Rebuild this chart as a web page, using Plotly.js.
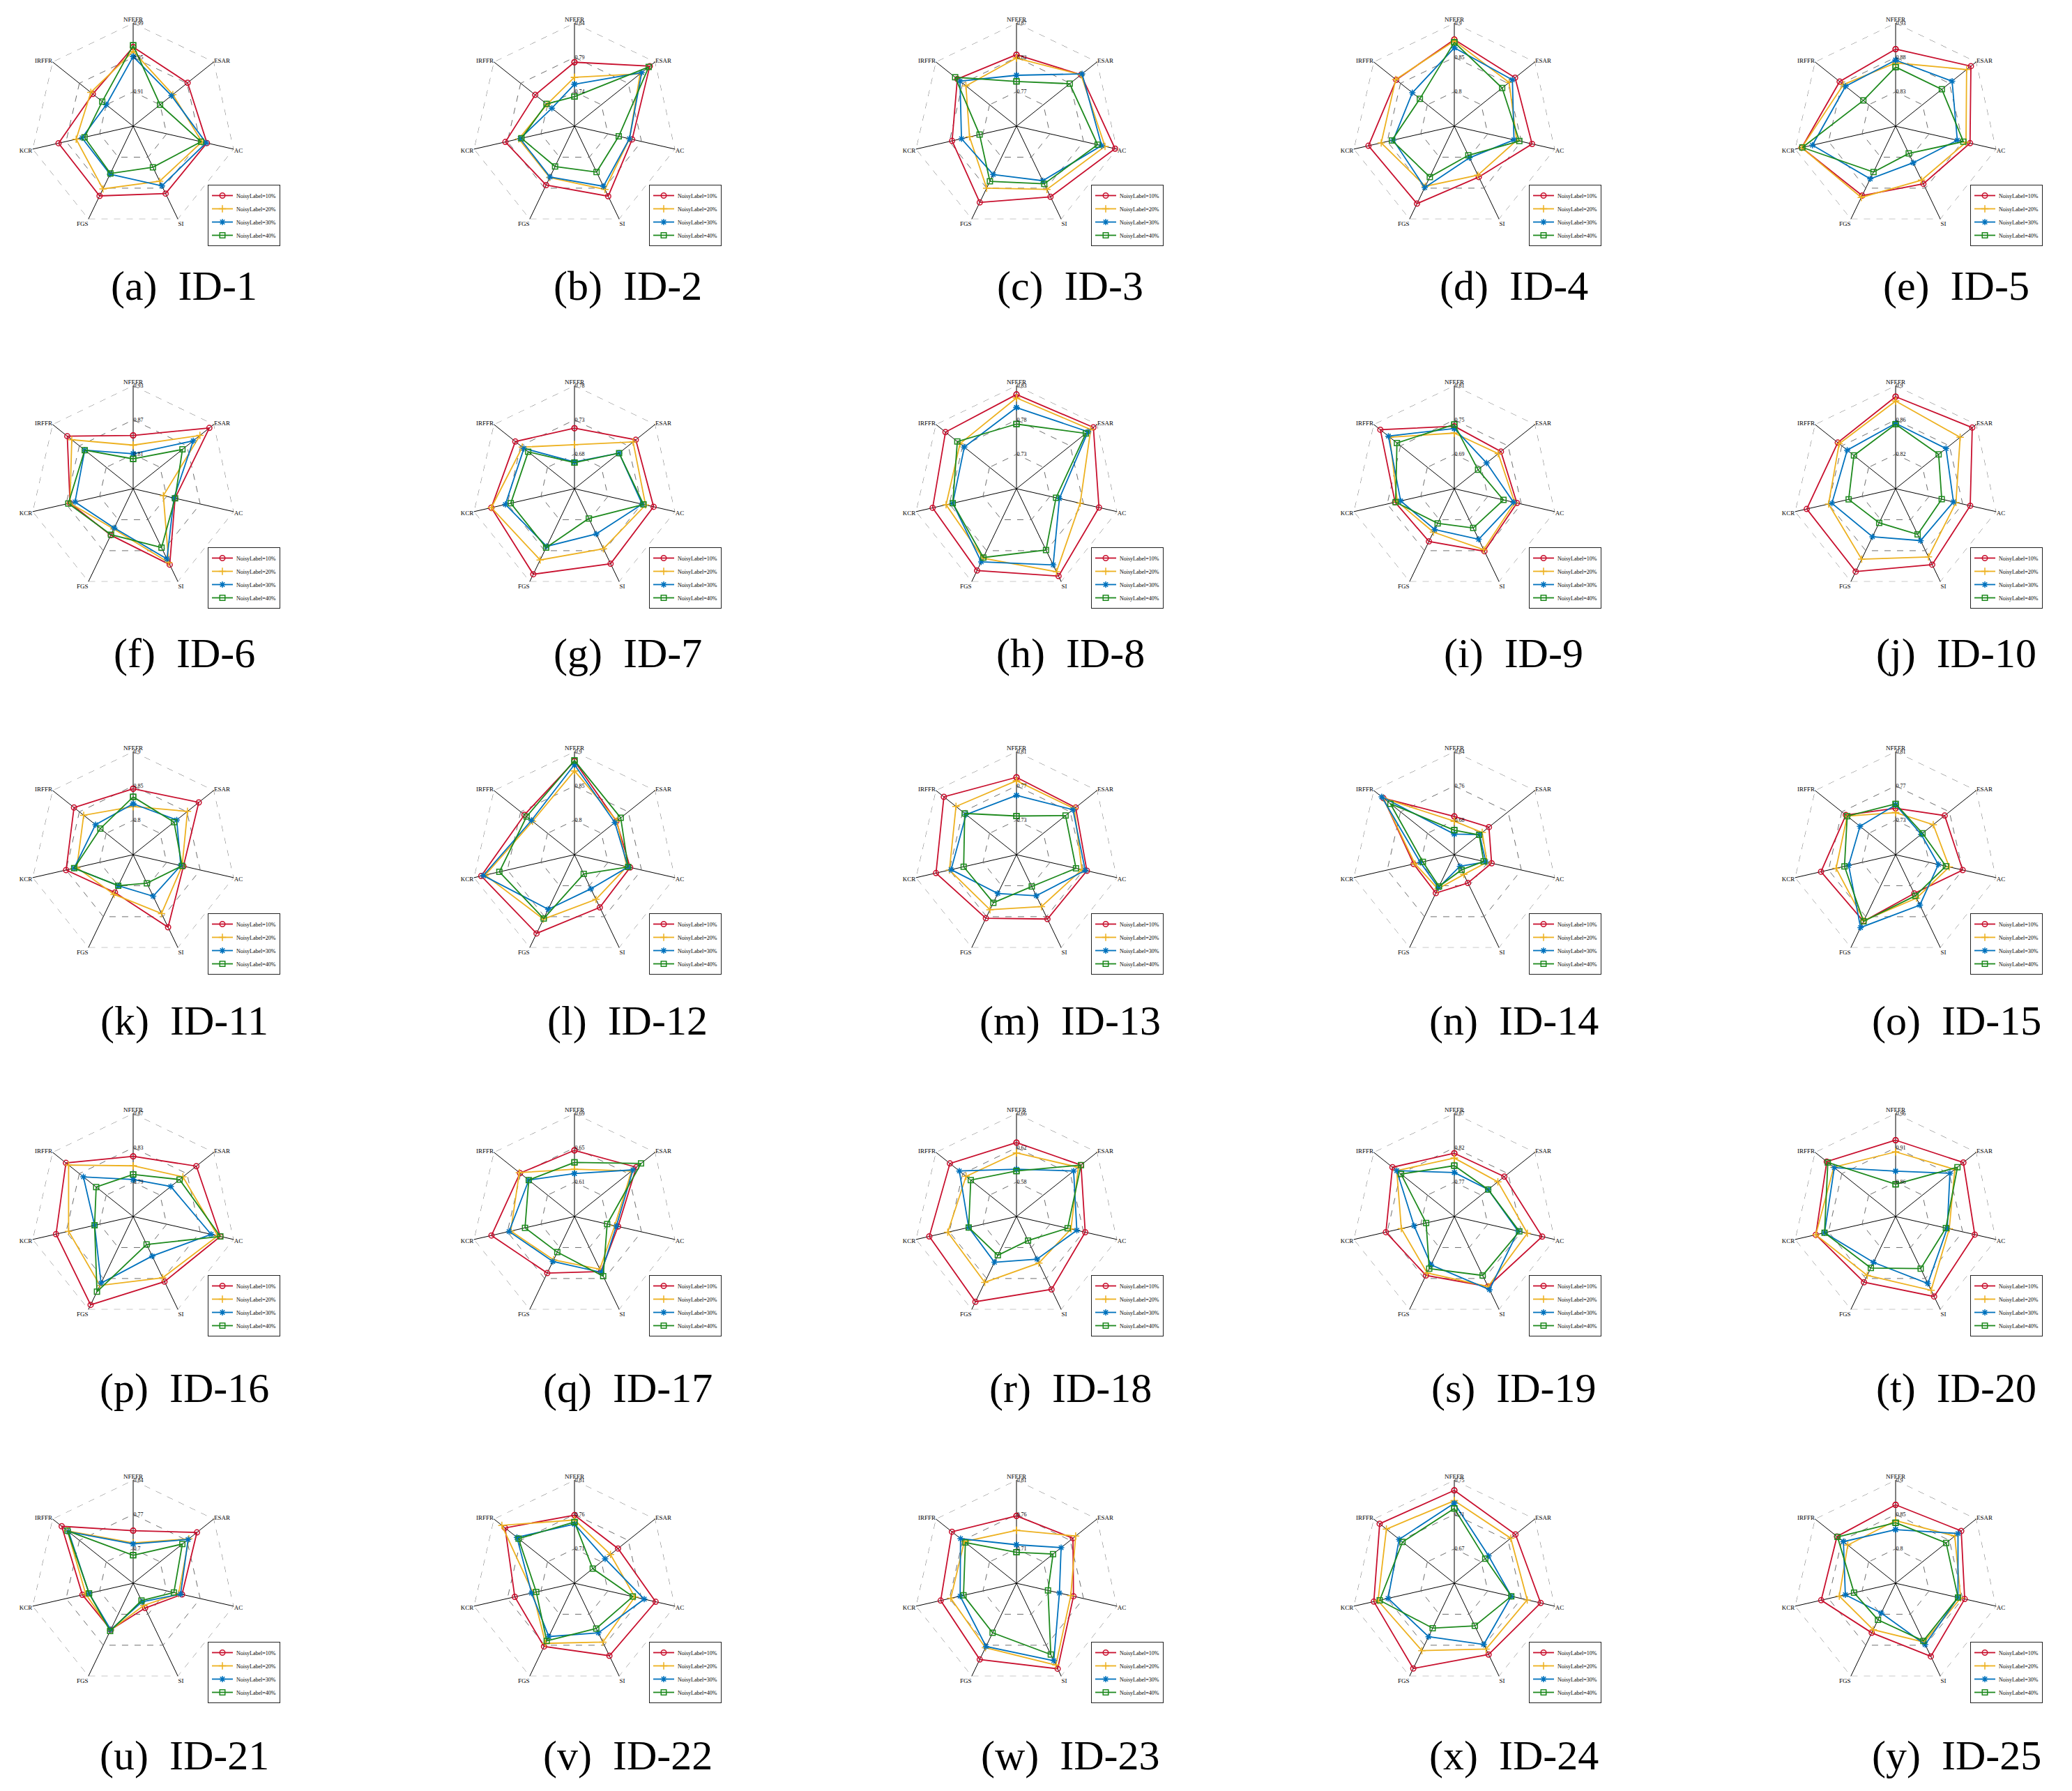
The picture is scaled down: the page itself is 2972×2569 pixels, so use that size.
<!DOCTYPE html>
<html>
<head>
<meta charset="utf-8">
<script src="https://cdn.plot.ly/plotly-3.0.1.min.js"></script>
<style>
  html, body { margin: 0; padding: 0; background: #fff; }
  #plot { width: 2972px; height: 2569px; }
</style>
</head>
<body>
<div id="plot"></div>
<script>
// axes of every radar, clockwise from the top
const metrics = ['NFEFR', 'ESAR', 'AC', 'SI', 'FGS', 'KCR', 'IRFFR'];
const seriesNames = ['NoisyLabel=10%', 'NoisyLabel=20%', 'NoisyLabel=30%', 'NoisyLabel=40%'];
const panelLetters = 'abcdefghijklmnopqrstuvwxy'.split('');
const panelIds = ['ID-1', 'ID-2', 'ID-3', 'ID-4', 'ID-5', 'ID-6', 'ID-7', 'ID-8', 'ID-9', 'ID-10',
    'ID-11', 'ID-12', 'ID-13', 'ID-14', 'ID-15', 'ID-16', 'ID-17', 'ID-18', 'ID-19', 'ID-20',
    'ID-21', 'ID-22', 'ID-23', 'ID-24', 'ID-25'];

// radial ticks of each panel (inner, middle, outer ring)
const radialTicks = [
    [0.91, 0.95, 0.99], [0.74, 0.79, 0.84], [0.77, 0.82, 0.87], [0.8, 0.85, 0.9], [0.83, 0.88, 0.93],
    [0.81, 0.87, 0.93], [0.68, 0.73, 0.78], [0.73, 0.78, 0.83], [0.69, 0.75, 0.81], [0.82, 0.86, 0.9],
    [0.8, 0.85, 0.9], [0.8, 0.85, 0.9], [0.73, 0.77, 0.81], [0.68, 0.76, 0.84], [0.73, 0.77, 0.81],
    [0.79, 0.83, 0.87], [0.61, 0.65, 0.69], [0.58, 0.62, 0.66], [0.77, 0.82, 0.87], [0.86, 0.91, 0.96],
    [0.7, 0.77, 0.84], [0.71, 0.76, 0.81], [0.71, 0.76, 0.81], [0.67, 0.71, 0.75], [0.8, 0.85, 0.9],
];

// values per panel, in metrics order
const noisy10 = [
    [0.962, 0.951, 0.958, 0.957, 0.960, 0.959, 0.930],
    [0.783, 0.830, 0.776, 0.803, 0.785, 0.793, 0.763],
    [0.824, 0.840, 0.867, 0.834, 0.843, 0.816, 0.830],
    [0.876, 0.863, 0.866, 0.832, 0.875, 0.878, 0.858],
    [0.892, 0.920, 0.891, 0.873, 0.892, 0.920, 0.884],
    [0.843, 0.920, 0.825, 0.897, 0.840, 0.863, 0.897],
    [0.718, 0.744, 0.748, 0.751, 0.768, 0.754, 0.740],
    [0.817, 0.823, 0.803, 0.821, 0.812, 0.805, 0.812],
    [0.739, 0.734, 0.742, 0.751, 0.732, 0.736, 0.795],
    [0.887, 0.894, 0.869, 0.878, 0.887, 0.886, 0.866],
    [0.846, 0.872, 0.825, 0.867, 0.811, 0.850, 0.860],
    [0.886, 0.828, 0.833, 0.835, 0.877, 0.889, 0.843],
    [0.780, 0.778, 0.774, 0.773, 0.772, 0.786, 0.798],
    [0.689, 0.703, 0.689, 0.673, 0.699, 0.697, 0.811],
    [0.744, 0.763, 0.770, 0.740, 0.776, 0.779, 0.764],
    [0.820, 0.844, 0.854, 0.834, 0.864, 0.842, 0.850],
    [0.647, 0.662, 0.622, 0.641, 0.643, 0.669, 0.651],
    [0.626, 0.636, 0.622, 0.634, 0.650, 0.644, 0.639],
    [0.812, 0.813, 0.851, 0.833, 0.815, 0.822, 0.835],
    [0.921, 0.936, 0.928, 0.939, 0.916, 0.929, 0.938],
    [0.737, 0.796, 0.732, 0.686, 0.735, 0.736, 0.816],
    [0.759, 0.741, 0.781, 0.777, 0.762, 0.749, 0.789],
    [0.758, 0.765, 0.745, 0.798, 0.783, 0.773, 0.780],
    [0.738, 0.721, 0.733, 0.722, 0.740, 0.726, 0.741],
    [0.864, 0.872, 0.853, 0.868, 0.830, 0.861, 0.859],
];
const noisy20 = [
    [0.957, 0.929, 0.952, 0.941, 0.951, 0.938, 0.933],
    [0.761, 0.812, 0.772, 0.792, 0.773, 0.773, 0.741],
    [0.819, 0.840, 0.852, 0.822, 0.820, 0.790, 0.814],
    [0.874, 0.852, 0.843, 0.829, 0.847, 0.859, 0.859],
    [0.872, 0.912, 0.885, 0.867, 0.895, 0.920, 0.877],
    [0.826, 0.899, 0.804, 0.893, 0.828, 0.863, 0.887],
    [0.694, 0.739, 0.736, 0.727, 0.745, 0.754, 0.727],
    [0.812, 0.818, 0.775, 0.814, 0.792, 0.785, 0.785],
    [0.727, 0.728, 0.738, 0.748, 0.714, 0.732, 0.774],
    [0.882, 0.876, 0.852, 0.868, 0.871, 0.860, 0.864],
    [0.820, 0.851, 0.823, 0.845, 0.814, 0.834, 0.842],
    [0.872, 0.829, 0.828, 0.822, 0.854, 0.883, 0.828],
    [0.776, 0.776, 0.768, 0.757, 0.761, 0.770, 0.780],
    [0.678, 0.683, 0.678, 0.651, 0.688, 0.694, 0.811],
    [0.739, 0.746, 0.754, 0.746, 0.775, 0.761, 0.762],
    [0.809, 0.824, 0.851, 0.829, 0.839, 0.827, 0.846],
    [0.625, 0.655, 0.618, 0.638, 0.626, 0.646, 0.652],
    [0.614, 0.632, 0.605, 0.600, 0.625, 0.622, 0.615],
    [0.805, 0.801, 0.829, 0.833, 0.811, 0.799, 0.827],
    [0.904, 0.920, 0.890, 0.929, 0.905, 0.929, 0.925],
    [0.712, 0.775, 0.725, 0.680, 0.736, 0.729, 0.801],
    [0.752, 0.727, 0.750, 0.755, 0.757, 0.722, 0.795],
    [0.737, 0.770, 0.741, 0.792, 0.764, 0.758, 0.757],
    [0.726, 0.714, 0.717, 0.715, 0.717, 0.721, 0.731],
    [0.841, 0.860, 0.847, 0.845, 0.825, 0.834, 0.839],
];
const noisy30 = [
    [0.951, 0.927, 0.957, 0.947, 0.932, 0.931, 0.910],
    [0.751, 0.815, 0.772, 0.787, 0.772, 0.771, 0.732],
    [0.794, 0.842, 0.847, 0.808, 0.798, 0.802, 0.825],
    [0.864, 0.858, 0.839, 0.801, 0.849, 0.841, 0.828],
    [0.876, 0.885, 0.872, 0.839, 0.865, 0.904, 0.873],
    [0.811, 0.884, 0.823, 0.886, 0.826, 0.854, 0.858],
    [0.669, 0.713, 0.731, 0.703, 0.723, 0.733, 0.724],
    [0.798, 0.813, 0.744, 0.803, 0.798, 0.775, 0.777],
    [0.735, 0.702, 0.736, 0.728, 0.709, 0.726, 0.777],
    [0.856, 0.855, 0.849, 0.847, 0.842, 0.856, 0.852],
    [0.824, 0.831, 0.821, 0.817, 0.800, 0.838, 0.820],
    [0.881, 0.825, 0.830, 0.805, 0.838, 0.886, 0.830],
    [0.759, 0.774, 0.772, 0.743, 0.740, 0.768, 0.765],
    [0.648, 0.675, 0.675, 0.630, 0.685, 0.681, 0.816],
    [0.748, 0.728, 0.741, 0.755, 0.784, 0.746, 0.743],
    [0.793, 0.806, 0.843, 0.801, 0.836, 0.796, 0.824],
    [0.620, 0.657, 0.620, 0.642, 0.628, 0.648, 0.638],
    [0.595, 0.625, 0.612, 0.595, 0.599, 0.597, 0.625],
    [0.784, 0.783, 0.815, 0.838, 0.798, 0.780, 0.827],
    [0.876, 0.911, 0.887, 0.918, 0.884, 0.916, 0.924],
    [0.710, 0.773, 0.729, 0.672, 0.735, 0.722, 0.798],
    [0.746, 0.717, 0.764, 0.740, 0.746, 0.724, 0.767],
    [0.716, 0.743, 0.724, 0.785, 0.762, 0.744, 0.764],
    [0.723, 0.681, 0.698, 0.709, 0.699, 0.709, 0.712],
    [0.828, 0.866, 0.843, 0.849, 0.798, 0.825, 0.847],
];
const noisy40 = [
    [0.964, 0.910, 0.951, 0.923, 0.931, 0.928, 0.916],
    [0.733, 0.828, 0.756, 0.764, 0.755, 0.769, 0.742],
    [0.785, 0.819, 0.841, 0.813, 0.809, 0.775, 0.834],
    [0.872, 0.839, 0.847, 0.797, 0.832, 0.843, 0.814],
    [0.866, 0.866, 0.881, 0.824, 0.854, 0.919, 0.840],
    [0.802, 0.860, 0.825, 0.864, 0.839, 0.866, 0.858],
    [0.668, 0.713, 0.733, 0.678, 0.725, 0.725, 0.716],
    [0.774, 0.809, 0.739, 0.779, 0.791, 0.775, 0.790],
    [0.742, 0.683, 0.718, 0.706, 0.697, 0.735, 0.758],
    [0.855, 0.844, 0.835, 0.839, 0.824, 0.836, 0.842],
    [0.834, 0.826, 0.823, 0.796, 0.800, 0.838, 0.811],
    [0.887, 0.836, 0.830, 0.781, 0.853, 0.862, 0.839],
    [0.735, 0.763, 0.761, 0.731, 0.752, 0.753, 0.767],
    [0.657, 0.674, 0.670, 0.639, 0.682, 0.675, 0.790],
    [0.749, 0.730, 0.750, 0.743, 0.776, 0.751, 0.762],
    [0.799, 0.819, 0.854, 0.786, 0.847, 0.796, 0.805],
    [0.633, 0.669, 0.609, 0.647, 0.616, 0.629, 0.638],
    [0.593, 0.636, 0.601, 0.571, 0.590, 0.597, 0.608],
    [0.794, 0.783, 0.817, 0.815, 0.804, 0.762, 0.819],
    [0.857, 0.925, 0.885, 0.894, 0.893, 0.916, 0.936],
    [0.687, 0.758, 0.715, 0.669, 0.738, 0.722, 0.801],
    [0.749, 0.694, 0.747, 0.733, 0.753, 0.717, 0.764],
    [0.705, 0.728, 0.707, 0.775, 0.740, 0.739, 0.755],
    [0.717, 0.676, 0.698, 0.685, 0.688, 0.719, 0.707],
    [0.838, 0.844, 0.843, 0.843, 0.809, 0.812, 0.858],
];

function runPlot() {
    var plotdiv = document.querySelector('#plot');
    var W = 2972, H = 2569;
    var R = 148;
    var colCenters = [191, 824, 1458, 2086, 2719];
    var rowCenters = [181, 701, 1226, 1745, 2271];
    var capX = [264, 900, 1535, 2171, 2806];
    var capY = [410, 937, 1464, 1991, 2518];
    var serif = "'Liberation Serif', 'DejaVu Serif', serif";

    var allSeries = [noisy10, noisy20, noisy30, noisy40];
    var colors = ['#C8102E', '#EDB120', '#0072BD', '#1E8A1E'];
    var symbols = ['circle-open', 'cross-thin-open', 'asterisk-open', 'square-open'];

    var data = [];
    var layout = {
        width: W,
        height: H,
        margin: { l: 0, r: 0, t: 0, b: 0 },
        paper_bgcolor: '#fff',
        showlegend: true,
        annotations: [],
        font: { family: serif, color: '#000' },
    };

    var closedTheta = metrics.concat([metrics[0]]);

    for (var p = 0; p < 25; p++) {
        var row = Math.floor(p / 5), col = p % 5;
        var cx = colCenters[col], cy = rowCenters[row];
        var polarKey = p == 0 ? 'polar' : 'polar' + (p + 1);
        var legendKey = p == 0 ? 'legend' : 'legend' + (p + 1);
        var ticks = radialTicks[p];
        var rMin = 2 * ticks[0] - ticks[1];
        var rMax = ticks[2];

        layout[polarKey] = {
            domain: {
                x: [(cx - R) / W, (cx + R) / W],
                y: [1 - (cy + R) / H, 1 - (cy - R) / H],
            },
            bgcolor: 'rgba(0,0,0,0)',
            gridshape: 'linear',
            radialaxis: {
                range: [rMin, rMax],
                tickvals: ticks,
                ticktext: ticks.map(String),
                angle: 90,
                tickangle: 90,
                showline: false,
                ticks: '',
                showgrid: true,
                gridcolor: '#6e6e6e',
                gridwidth: 1,
                griddash: 'dash',
                tickfont: { size: 8, family: serif, color: '#000' },
            },
            angularaxis: {
                type: 'category',
                categoryarray: metrics,
                direction: 'clockwise',
                rotation: 90,
                showline: false,
                ticks: '',
                showgrid: true,
                gridcolor: '#000',
                gridwidth: 1,
                tickfont: { size: 9, family: serif, color: '#000' },
            },
        };

        // dashed outer frame at the top tick (plotly skips the grid line on the edge)
        data.push({
            type: 'scatterpolar',
            subplot: polarKey,
            r: closedTheta.map(() => rMax),
            theta: closedTheta,
            mode: 'lines',
            line: { color: '#6e6e6e', width: 1, dash: 'dash' },
            showlegend: false,
            hoverinfo: 'skip',
            cliponaxis: false,
        });

        allSeries.forEach((series, s) => {
            var vals = series[p].concat([series[p][0]]);
            data.push({
                type: 'scatterpolar',
                subplot: polarKey,
                legend: legendKey,
                r: vals,
                theta: closedTheta,
                mode: 'lines+markers',
                name: seriesNames[s],
                line: { color: colors[s], width: 1.8 },
                marker: { symbol: symbols[s], size: 7.5, color: colors[s], line: { color: colors[s], width: 1.5 } },
                cliponaxis: false,
                hoverinfo: 'skip',
            });
        });

        layout[legendKey] = {
            x: (cx + 107) / W,
            y: 1 - (cy + 84) / H,
            xanchor: 'left',
            yanchor: 'top',
            bgcolor: '#fff',
            bordercolor: '#222',
            borderwidth: 1,
            font: { size: 8, family: serif, color: '#000' },
            tracegroupgap: 0,
            itemwidth: 30,
        };

        layout.annotations.push({
            xref: 'paper', yref: 'paper',
            x: capX[col] / W,
            y: 1 - capY[row] / H,
            xanchor: 'center', yanchor: 'middle',
            showarrow: false,
            text: '(' + panelLetters[p] + ')\u2002' + panelIds[p],
            font: { size: 60, family: serif, color: '#000' },
        });
    }

    var config = { staticPlot: true, displayModeBar: false };

    Plotly.newPlot(plotdiv, data, layout, config);
}

runPlot();
</script>
</body>
</html>
